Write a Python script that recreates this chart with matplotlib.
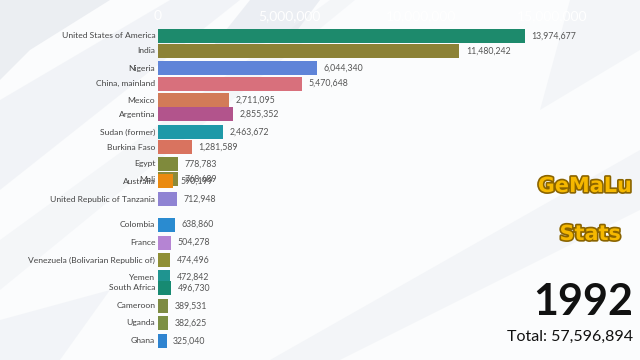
import matplotlib
matplotlib.use("Agg")
import matplotlib.pyplot as plt
import matplotlib.patheffects as pe
from matplotlib.patches import Polygon
from matplotlib.ticker import FuncFormatter

countries = ["United States of America", "India", "Nigeria", "China, mainland",
             "Mexico", "Argentina", "Sudan (former)", "Burkina Faso", "Egypt",
             "Mali", "Australia", "United Republic of Tanzania", "Colombia",
             "France", "Venezuela (Bolivarian Republic of)", "Yemen",
             "South Africa", "Cameroon", "Uganda", "Ghana"]
values = [13974677, 11480242, 6044340, 5470648, 2711095, 2855352, 2463672,
          1281589, 778783, 768689, 590199, 712948, 638860, 504278, 474496,
          472842, 496730, 389531, 382625, 325040]
# interpolated (animated) rank of each bar in this frame
ranks = [0.0, 0.93, 2.0, 2.97, 4.0, 4.86, 5.98, 6.92, 7.96, 8.91, 9.04,
         10.16, 11.75, 12.87, 13.96, 15.02, 15.7, 16.82, 17.88, 19.0]
colors = ["#1d8a6c", "#8c8236", "#5f84d8", "#d8707c", "#d27b58", "#b2548c",
          "#1e99a8", "#d9735f", "#7f8a3c", "#8a8a3a", "#ea8a10", "#8f83d3",
          "#2a8bd0", "#b584d3", "#8f8f35", "#1f9490", "#178a72", "#7d8b43",
          "#7c9044", "#2f84d0"]
year = "1992"
total = 57596894
xticks = [0, 5000000, 10000000, 15000000]

W, H = 640, 360
fig = plt.figure(figsize=(6.4, 3.6), dpi=100)
fig.patch.set_facecolor("#fbfcfd")

# decorative background swooshes (figure coords)
bg = fig.add_axes([0, 0, 1, 1], zorder=0)
bg.set_xlim(0, W); bg.set_ylim(H, 0); bg.axis("off")
swooshes = [
    ([(0, 0), (110, 0), (30, 50), (0, 80)], "#dfe3ea", 0.55),
    ([(0, 100), (170, 0), (240, 0), (0, 190)], "#e9ecf2", 0.5),
    ([(0, 240), (330, 0), (355, 0), (0, 290)], "#eceff4", 0.45),
    ([(250, 0), (320, 0), (290, 40), (210, 50)], "#dde2ea", 0.5),
    ([(570, 0), (640, 0), (640, 50), (540, 110)], "#eef1f5", 0.6),
    ([(640, 150), (640, 210), (340, 360), (270, 360)], "#eef1f5", 0.6),
    ([(0, 320), (110, 290), (60, 360), (0, 360)], "#e9ecf2", 0.45),
]
for pts, c, a in swooshes:
    bg.add_patch(Polygon(pts, closed=True, facecolor=c, edgecolor="none", alpha=a))

left_px, top_px, bot_px = 158, 28, 352
px_per_unit = 367 / 13974677
xmax = 16500000
right_px = left_px + xmax * px_per_unit
ax = fig.add_axes([left_px / W, 1 - bot_px / H, (right_px - left_px) / W,
                   (bot_px - top_px) / H], zorder=1)
ax.patch.set_alpha(0)
y_top = (top_px - 36) / 16.05
y_bot = (bot_px - 36) / 16.05
ax.set_ylim(y_bot, y_top)
ax.set_xlim(0, xmax)

lab_font = "Lato"
ax.barh(ranks, values, height=0.87, color=colors, zorder=2)
for r, v, name in zip(ranks, values, countries):
    ax.text(-100000, r, name, ha="right", va="center", fontsize=6.1,
            color="#444444", family=lab_font)
    ax.text(v + 250000, r, f"{v:,}", ha="left", va="center", fontsize=6.3,
            color="#555555", family=lab_font)

ax.xaxis.tick_top()
ax.set_xticks(xticks)
ax.xaxis.set_major_formatter(FuncFormatter(lambda x, p: f"{int(x):,}"))
ax.tick_params(axis="x", length=0, pad=4, labelsize=10, labelcolor="#ffffff")
for lbl in ax.get_xticklabels():
    lbl.set_family(lab_font)
ax.set_yticks([])
for s in ax.spines.values():
    s.set_visible(False)

# title-like annotations
stroke = [pe.withStroke(linewidth=2.4, foreground="#8a6400")]
fig.text(632 / W, 1 - 186 / H, "GeMaLu", ha="right", va="center", fontsize=15,
         fontweight="bold", family="DejaVu Sans", color="#f5b800",
         path_effects=stroke)
fig.text(621 / W, 1 - 234 / H, "Stats", ha="right", va="center", fontsize=15,
         fontweight="bold", family="DejaVu Sans", color="#f5b800",
         path_effects=stroke)
fig.text(633 / W, 1 - 302 / H, year, ha="right", va="center", fontsize=31,
         fontweight="bold", family="Lato", color="#111111")
fig.text(633 / W, 1 - 337 / H, f"Total: {total:,}", ha="right", va="center",
         fontsize=11.5, family="Lato", color="#111111")

fig.savefig("out.png", dpi=100, facecolor=fig.get_facecolor())
